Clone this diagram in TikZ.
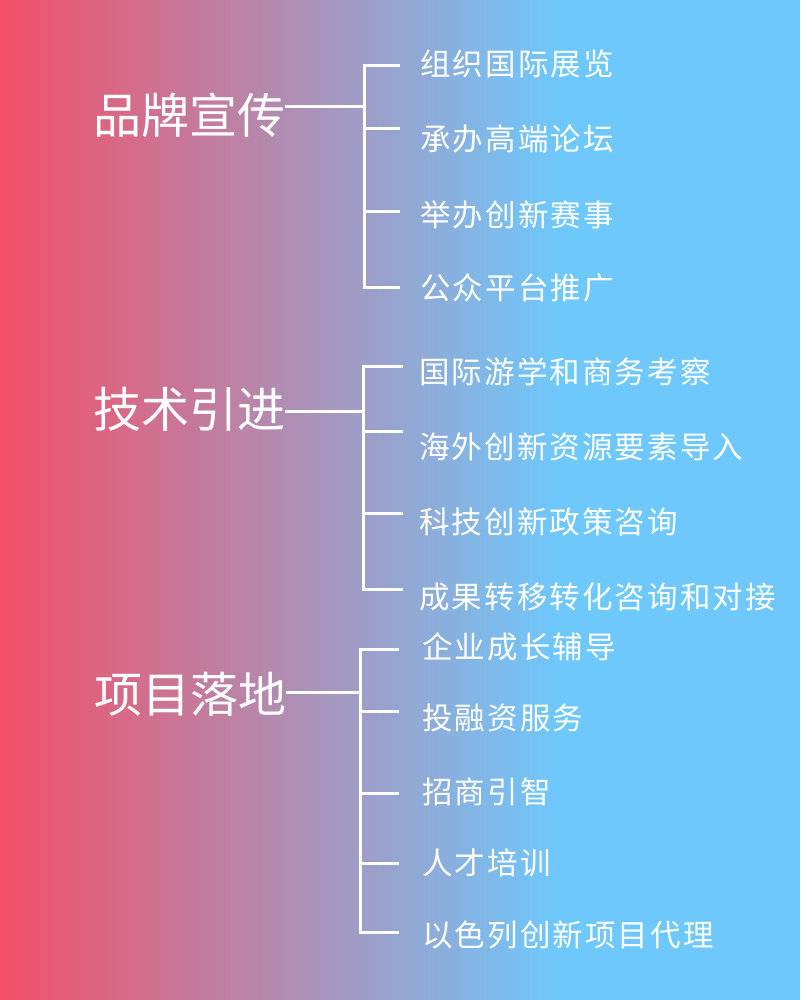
\documentclass[tikz,border=0pt]{standalone}
\usepackage{fontspec}
\newfontfamily\cjk{Noto Sans CJK SC}
\newfontfamily\cjklab[LetterSpace=7]{Noto Sans CJK SC}
\definecolor{gl}{HTML}{F44F66}
\definecolor{gr}{HTML}{6EC8FC}
\begin{document}
\begin{tikzpicture}[x=1pt,y=-1pt,
  title/.style={anchor=base west, inner sep=0pt, text=white, font=\cjk\fontsize{48}{48}\selectfont},
  lab/.style={anchor=base west, inner sep=0pt, text=white, font=\cjklab\fontsize{30.5}{31}\selectfont},
  conn/.style={draw=white, line width=3pt, line join=miter}]
\useasboundingbox (0,0) rectangle (800,1000);
\fill[gr] (0,0) rectangle (800,1000);
\shade[left color=gl, right color=gr] (0,0) rectangle (560,1000);

% group 1
\node[title] (t1) at (93,134) {品牌宣传};
\coordinate (j1) at (364,107);
\coordinate (j1a) at (364,66);
\coordinate (j1d) at (364,287);
\coordinate (e1a) at (400,66);
\coordinate (e1b) at (400,129);
\coordinate (e1c) at (400,212);
\coordinate (e1d) at (400,287);
\draw[conn] (t1.east |- j1) -- (j1);
\draw[conn] (e1a) -- (j1a) -- (j1d) -- (e1d);
\draw[conn] (j1a |- e1b) -- (e1b);
\draw[conn] (j1a |- e1c) -- (e1c);
\node[lab] (l1a) at (420,76) {组织国际展览};
\node[lab] (l1b) at (420,151) {承办高端论坛};
\node[lab] (l1c) at (420,226) {举办创新赛事};
\node[lab] (l1d) at (420,299) {公众平台推广};

% group 2
\node[title] (t2) at (93,427) {技术引进};
\coordinate (j2) at (363,411);
\coordinate (j2a) at (363,366);
\coordinate (j2d) at (363,589);
\coordinate (e2a) at (403,366);
\coordinate (e2b) at (403,431);
\coordinate (e2c) at (403,513);
\coordinate (e2d) at (403,589);
\draw[conn] (t2.east |- j2) -- (j2);
\draw[conn] (e2a) -- (j2a) -- (j2d) -- (e2d);
\draw[conn] (j2a |- e2b) -- (e2b);
\draw[conn] (j2a |- e2c) -- (e2c);
\node[lab] (l2a) at (419,383) {国际游学和商务考察};
\node[lab] (l2b) at (419,458) {海外创新资源要素导入};
\node[lab] (l2c) at (419,533) {科技创新政策咨询};
\node[lab] (l2d) at (419,608) {成果转移转化咨询和对接};

% group 3
\node[title] (t3) at (94,712) {项目落地};
\coordinate (j3) at (360,692);
\coordinate (j3a) at (360,649);
\coordinate (j3e) at (360,932);
\coordinate (e3a) at (399,649);
\coordinate (e3b) at (399,711);
\coordinate (e3c) at (399,793);
\coordinate (e3d) at (399,863);
\coordinate (e3e) at (399,932);
\draw[conn] (t3.east |- j3) -- (j3);
\draw[conn] (e3a) -- (j3a) -- (j3e) -- (e3e);
\draw[conn] (j3a |- e3b) -- (e3b);
\draw[conn] (j3a |- e3c) -- (e3c);
\draw[conn] (j3a |- e3d) -- (e3d);
\node[lab] (l3a) at (422,658) {企业成长辅导};
\node[lab] (l3b) at (422,729) {投融资服务};
\node[lab] (l3c) at (422,803) {招商引智};
\node[lab] (l3d) at (422,874) {人才培训};
\node[lab] (l3e) at (422,946) {以色列创新项目代理};
\end{tikzpicture}
\end{document}
